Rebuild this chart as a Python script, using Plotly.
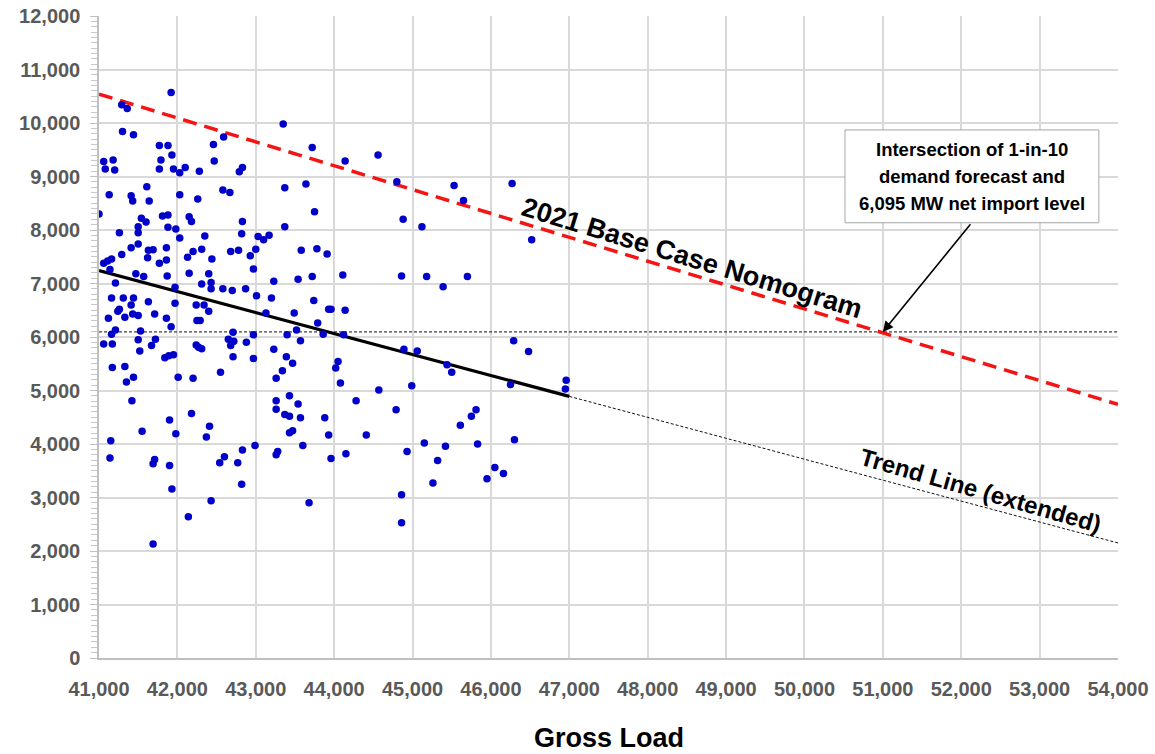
import plotly.graph_objects as go

# ---- data ----
gross_load = [
    41920, 41290, 41360, 41300, 41440, 43350, 41770, 41880, 42460, 42590,
    41930, 41790, 41060, 41180, 41080, 41200, 41770, 41950, 42030, 42100,
    42280, 42470, 42790, 42830, 43370, 41610, 41130, 41410, 41430, 41640,
    42030, 42260, 42580, 42670, 41000, 41540, 41600, 41810, 41880, 42150,
    42180, 42830, 43370, 41500, 41500, 41880, 41980, 41260, 42030, 42350,
    42820, 43030, 43100, 43170, 41500, 41410, 41860, 41290, 41630, 41690,
    41620, 41860, 41770, 42130, 42200, 42310, 42440, 42680, 42780, 42930,
    43000, 42970, 41060, 41110, 41160, 41140, 41470, 41570, 41870, 42150,
    42400, 43230, 41210, 42310, 42430, 42430, 41970, 42580, 42700, 42870,
    43010, 43200, 41160, 41310, 41440, 41410, 41630, 41970, 41260, 41240,
    41120, 41330, 41430, 41500, 41710, 41860, 42240, 42340, 42400, 42250,
    42290, 43130, 41920, 41210, 41160, 41530, 42710, 42970, 43400, 41060,
    41170, 41500, 41720, 41670, 42240, 42270, 42310, 42650, 42680, 42720,
    42880, 41520, 43230, 41840, 41890, 41950, 42710, 42970, 43390, 41170,
    41330, 43340, 41440, 41350, 42010, 42200, 42550, 43260, 41420, 43430,
    43260, 43260, 43370, 43430, 42180, 41900, 42410, 42370, 41550, 41980,
    41150, 43430, 42990, 42830, 43280, 43260, 41140, 41710, 41690, 41900,
    42600, 42540, 42770, 42820, 41930, 42430, 42140, 41690, 43720, 44140,
    44560, 43640, 44800, 45530, 45650, 43750, 44880, 45120, 43580, 43780,
    43910, 43540, 43720, 44110, 44860, 45180, 45700, 45390, 43740, 43490,
    43930, 43960, 44140, 43790, 43520, 43570, 43860, 44120, 44890, 45060,
    43470, 44050, 44020, 45440, 45500, 44080, 44570, 44990, 43540, 44280,
    43570, 43880, 44790, 45810, 45750, 45610, 43470, 43930, 44410, 43600,
    45150, 45420, 45830, 43960, 44150, 44930, 45320, 45260, 44860, 43680,
    44860, 46270, 46520, 46290, 46480, 46250, 46960, 46950, 46300, 46050,
    46160, 45950,
]
net_import = [
    10570, 10340, 10270, 9840, 9780, 9980, 9580, 9580, 9600, 9740,
    9400, 9310, 9280, 9310, 9140, 9120, 9140, 9140, 9070, 9170,
    9100, 9290, 9090, 9170, 8790, 8810, 8660, 8640, 8540, 8540,
    8660, 8580, 8750, 8700, 8300, 8220, 8150, 8260, 8280, 8250,
    8160, 8160, 8060, 8060, 7950, 8050, 8020, 7950, 7850, 7890,
    7930, 7880, 7820, 7900, 7740, 7670, 7670, 7540, 7620, 7630,
    7480, 7440, 7380, 7490, 7600, 7640, 7460, 7600, 7620, 7520,
    7640, 7270, 7380, 7420, 7460, 7260, 7180, 7130, 7140, 7190,
    7180, 7040, 7010, 6990, 7020, 6900, 6930, 6900, 6870, 6900,
    6770, 6730, 6730, 6730, 6730, 6600, 6660, 6630, 6520, 6480,
    6350, 6370, 6430, 6400, 6430, 6350, 6600, 6600, 6480, 6310,
    6310, 6450, 6190, 6130, 6050, 6110, 6090, 6040, 6040, 5870,
    5870, 5950, 5960, 5840, 5850, 5810, 5780, 5960, 5840, 5920,
    5900, 5740, 5770, 5610, 5650, 5670, 5630, 5600, 5630, 5430,
    5450, 5370, 5250, 5160, 5250, 5230, 5340, 5230, 4810, 4900,
    4810, 4650, 4550, 4520, 4570, 4450, 4330, 4130, 4240, 4190,
    4060, 4210, 3970, 3890, 3860, 3800, 3740, 3710, 3630, 3600,
    3760, 3650, 3650, 3250, 3160, 2940, 2640, 2130, 9540, 9290,
    9400, 8860, 8900, 8830, 8550, 8340, 8200, 8060, 7620, 7650,
    7550, 7080, 7130, 7160, 7140, 7130, 7130, 6940, 6680, 6450,
    6520, 6520, 6500, 6260, 6130, 5930, 6050, 6040, 5770, 5740,
    5510, 5540, 5420, 5480, 5340, 5140, 5010, 5090, 4750, 4810,
    4490, 4490, 4640, 4640, 4520, 4350, 4250, 4170, 4170, 3970,
    4020, 3960, 4000, 3730, 3820, 3860, 3690, 3270, 3050, 2900,
    2530, 8870, 7820, 5930, 5730, 5110, 5190, 5030, 4080, 3560,
    3450, 3350,
]

nomogram_x = [41000, 54000]
nomogram_y = [10540, 4740]
trend_x = [41000, 47000]
trend_y = [7240, 4890]
trend_ext_x = [47000, 54000]
trend_ext_y = [4890, 2150]
import_level = 6095
intersection_load = 51000
callout_lines = ["Intersection of 1-in-10", "demand forecast and", "6,095 MW net import level"]

FONT = "Liberation Sans, Arial, sans-serif"

fig = go.Figure()
fig.add_trace(go.Scatter(x=[nomogram_x[0], nomogram_x[-1]], y=[import_level, import_level],
                         mode="lines", line=dict(color="#111111", width=1, dash="3px,2px"),
                         hoverinfo="skip", showlegend=False))
fig.add_trace(go.Scatter(x=trend_ext_x, y=trend_ext_y, mode="lines",
                         line=dict(color="#111111", width=1, dash="3px,2px"),
                         showlegend=False))
fig.add_trace(go.Scatter(x=nomogram_x, y=nomogram_y, mode="lines",
                         line=dict(color="#f41414", width=3.5, dash="14px,8px"),
                         showlegend=False))
fig.add_trace(go.Scatter(x=trend_x, y=trend_y, mode="lines",
                         line=dict(color="#000000", width=3.2), showlegend=False))
fig.add_trace(go.Scatter(x=gross_load, y=net_import, mode="markers",
                         marker=dict(color="#0000c8", size=7.5, line=dict(width=0)),
                         showlegend=False))

fig.add_annotation(x=48565, y=7480, text="2021 Base Case Nomogram", showarrow=False,
                   textangle=17, font=dict(family=FONT, size=27, color="#000000", weight="bold"))
fig.add_annotation(x=52250, y=3130, text="Trend Line (extended)", showarrow=False,
                   textangle=16, font=dict(family=FONT, size=24, color="#000000", weight="bold"))

# callout box
fig.add_shape(type="rect", x0=50517, x1=53756, y0=8135, y1=9870,
              line=dict(color="#a6a6a6", width=1), fillcolor="#ffffff", layer="above")
for txt, yy in zip(callout_lines, [9496, 8992, 8488]):
    fig.add_annotation(x=52136, y=yy, text=txt, showarrow=False,
                       font=dict(family=FONT, size=18.5, color="#000000", weight="bold"))
fig.add_annotation(x=intersection_load, y=import_level, ax=52133, ay=8135, axref="x", ayref="y",
                   text="", showarrow=True, arrowhead=2, arrowsize=1.3, arrowwidth=1.6,
                   arrowcolor="#000000", standoff=0)
fig.add_annotation(x=0.5, y=-0.124, xref="paper", yref="paper", text="Gross Load",
                   showarrow=False, yanchor="middle",
                   font=dict(family=FONT, size=27, color="#000000", weight="bold"))

fig.update_layout(
    width=1155, height=754,
    margin=dict(l=99, r=37, t=16, b=96),
    plot_bgcolor="#ffffff", paper_bgcolor="#ffffff",
    showlegend=False,
    xaxis=dict(range=[41000, 54000], dtick=1000, tickformat=",", showgrid=True,
               gridcolor="#d9d9d9", gridwidth=1.5, zeroline=False, showline=True,
               linecolor="#bfbfbf", linewidth=1.5, ticks="", ticklabelstandoff=12,
               automargin=False,
               tickfont=dict(family=FONT, size=20, color="#595959", weight="bold")),
    yaxis=dict(range=[0, 12000], dtick=1000, tickformat=",", showgrid=True,
               gridcolor="#d9d9d9", gridwidth=1.5, zeroline=False, showline=True,
               linecolor="#bfbfbf", linewidth=1.5, ticks="outside", ticklen=7,
               tickcolor="#bfbfbf", ticklabelstandoff=6, automargin=False,
               minor=dict(dtick=100, ticks="outside", ticklen=6, tickcolor="#c8c8c8",
                          showgrid=False),
               tickfont=dict(family=FONT, size=20, color="#595959", weight="bold")),
)

fig.write_html("out.html")
